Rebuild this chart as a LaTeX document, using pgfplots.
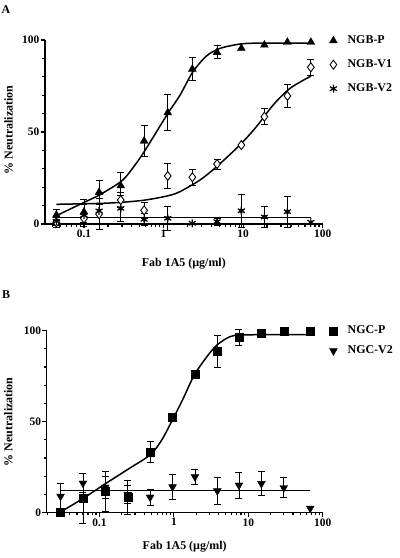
\documentclass[border=0pt]{standalone}
\usepackage{fontspec}
\setmainfont{Liberation Serif}
\usepackage{pgfplots}
\usepackage{pgfplotstable}
\pgfplotsset{compat=1.18}

\pgfplotstableread{
x y e
0.045 4.9 3
0.1 6.5 6.7
0.155 17.2 6.7
0.29 20.8 7.2
0.57 45.1 8.5
1.13 60.5 9.7
2.3 84.2 6.4
4.7 93.3 3.5
9.5 95.5 0
18.5 97.3 0
36 98.8 0
71 98.8 0
}\ngbp
\pgfplotstableread{
x y e
0.045 0.9 3
0.1 3 2
0.155 5.4 8.5
0.29 13 4
0.57 7.4 4.4
1.13 26.1 7
2.3 25.4 4.3
4.7 32.6 2.7
9.5 42.9 0
18.5 58.3 4.3
36 69.6 6
71 85.2 4.3
}\ngbva
\pgfplotstableread{
x y e
0.045 1.5 2
0.1 4.9 6
0.155 7.1 10
0.29 8.5 7.2
0.57 2.5 3.5
1.13 3.1 6.5
2.3 0.4 0
4.7 1.3 2
9.5 7.2 9
18.5 3.8 5.5
36 6.7 8.5
71 1.0 0
}\ngbvb
\pgfplotstableread{
x y e
0.03 0 0
0.06 7.9 13.7
0.12 11.9 11
0.24 8.4 9.2
0.48 33.4 6
0.96 52.6 0
1.92 76.3 0
3.84 88.5 8.7
7.5 96.4 4.3
15 98.5 0
30 99.6 0
68 99.6 0
}\ngcp
\pgfplotstableread{
x y e
0.03 9 7.3
0.06 16.2 5.2
0.12 14 6
0.24 10 5
0.48 8.5 4.5
0.96 14.2 6.7
1.92 19.7 4.3
3.84 12 7.5
7.5 15.1 7
15 16 6.5
30 13.7 5.5
68 2.4 0
}\ngcv

\pgfplotsset{
  myerr/.style={only marks, mark=none, forget plot,
    restrict expr to domain={\thisrow{e}}{0.1:1000},
    error bars/y dir=both, error bars/y explicit,
    error bars/error bar style={line width=0.8bp, black},
    error bars/error mark options={rotate=90, mark size=3.5bp, line width=0.8bp, black}},
  myfit/.style={black, line width=1.5bp, forget plot, mark=none},
}

\begin{document}
\begin{tikzpicture}
\useasboundingbox (0,0) rectangle (400bp,558bp);
\node[font=\fontsize{12}{13}\selectfont\bfseries] at (6bp,548bp) {A};
\node[font=\fontsize{12}{13}\selectfont\bfseries] at (6bp,263bp) {B};

\begin{axis}[
  scale only axis,
  xmode=log, log basis x=10,
  ymin=0, ymax=100, xmax=100,
  axis x line=bottom, axis y line=left,
  axis line style={-, line width=1.6bp, black},
  xtick={0.1,1,10,100}, xticklabels={0.1,1,10,100},
  ytick={0,50,100}, yticklabels={0,50,100},
  minor ytick={10,20,30,40,60,70,80,90},
  tick align=outside,
  major tick length=4.5bp, minor tick length=2.8bp,
  tick style={black, line width=1.2bp},
  tick label style={font=\fontsize{11.5}{12}\selectfont\bfseries, inner sep=1bp},
  label style={font=\fontsize{12}{13}\selectfont\bfseries},
  clip=false,
  legend style={draw=none, fill=none, font=\fontsize{12}{13}\selectfont\bfseries,
    anchor=north west, cells={anchor=west}, inner sep=0pt,
    nodes={inner sep=0pt, text height=9bp, text depth=3bp}},
  legend image code/.code={\draw[#1] plot coordinates {(0bp,0bp)}; \path (-4bp,-4bp) (14bp,4bp);},
  at={(45bp,334bp)}, anchor=south west,
  width=277.7bp, height=184bp,
  xmin=0.0324,
  minor xtick={0.04,0.05,0.06,0.07,0.08,0.09,0.2,0.3,0.4,0.5,0.6,0.7,0.8,0.9,2,3,4,5,6,7,8,9,20,30,40,50,60,70,80,90},
  xlabel={Fab 1A5 (µg/ml)},
  ylabel={\% Neutralization},
  xlabel style={at={(axis description cs:0.5,-0.217)}, anchor=center},
  ylabel style={at={(axis description cs:-0.131,0.511)}, anchor=center},
  legend style={at={(1.0227,1.03)}, row sep=12bp},
]
\addplot[myfit, smooth] coordinates {(0.045,4.5) (0.103,12) (0.16,16) (0.3,23.5) (0.42,31) (0.585,40) (1.13,60) (1.61,70) (2.32,82.5) (3.4,91) (4.7,94.8) (6.8,96.8) (12.2,98.2) (71,98.3)};
\addplot[myfit, smooth] coordinates {(0.045,10.7) (0.16,11.2) (0.3,11.8) (0.585,13) (1.13,15.3) (1.61,17.6) (2.87,23.9) (4.66,31.2) (9.08,42.9) (14.7,52.9) (23.9,64.7) (38.8,73.7) (71.3,80.4)};
\addplot[myfit] coordinates {(0.045,3.4) (71,3.4)};
\addplot[myerr] table[x=x,y=y,y error=e] {\ngbp};
\addplot[myerr] table[x=x,y=y,y error=e] {\ngbva};
\addplot[myerr] table[x=x,y=y,y error=e] {\ngbvb};
\addplot[only marks, mark=triangle*, mark size=4.5bp, black] table[x=x,y=y] {\ngbp};
\addplot[only marks, mark=diamond*, mark size=4.5bp, black, mark options={draw=black, fill=white, line width=0.9bp}] table[x=x,y=y] {\ngbva};
\addplot[only marks, mark=asterisk, mark size=4bp, black, mark options={line width=1.2bp}] table[x=x,y=y] {\ngbvb};
\legend{NGB-P, NGB-V1, NGB-V2}
\end{axis}

\begin{axis}[
  scale only axis,
  xmode=log, log basis x=10,
  ymin=0, ymax=100, xmax=100,
  axis x line=bottom, axis y line=left,
  axis line style={-, line width=1.6bp, black},
  xtick={0.1,1,10,100}, xticklabels={0.1,1,10,100},
  ytick={0,50,100}, yticklabels={0,50,100},
  minor ytick={10,20,30,40,60,70,80,90},
  tick align=outside,
  major tick length=4.5bp, minor tick length=2.8bp,
  tick style={black, line width=1.2bp},
  tick label style={font=\fontsize{11.5}{12}\selectfont\bfseries, inner sep=1bp},
  label style={font=\fontsize{12}{13}\selectfont\bfseries},
  clip=false,
  legend style={draw=none, fill=none, font=\fontsize{12}{13}\selectfont\bfseries,
    anchor=north west, cells={anchor=west}, inner sep=0pt,
    nodes={inner sep=0pt, text height=9bp, text depth=3bp}},
  legend image code/.code={\draw[#1] plot coordinates {(0bp,0bp)}; \path (-4bp,-4bp) (14bp,4bp);},
  at={(46.7bp,45.3bp)}, anchor=south west,
  width=276bp, height=182bp,
  xmin=0.01955,
  minor xtick={0.02,0.03,0.04,0.05,0.06,0.07,0.08,0.09,0.2,0.3,0.4,0.5,0.6,0.7,0.8,0.9,2,3,4,5,6,7,8,9,20,30,40,50,60,70,80,90},
  xlabel={Fab 1A5 (µg/ml)},
  ylabel={\% Neutralization},
  xlabel style={at={(axis description cs:0.5,-0.187)}, anchor=center},
  ylabel style={at={(axis description cs:-0.139,0.5)}, anchor=center},
  legend style={at={(1.023,1.033)}, row sep=8bp},
]
\addplot[myfit, smooth] coordinates {(0.0304,0.5) (0.061,8) (0.119,15.8) (0.236,23.6) (0.476,31.7) (0.684,39.8) (0.96,51.1) (1.33,62.6) (1.87,75.4) (2.74,85.4) (3.81,92.2) (5.64,96.7) (7.7,97.6) (15,97.8) (68,97.8)};
\addplot[myfit] coordinates {(0.03,12.1) (68,12.1)};
\addplot[myerr] table[x=x,y=y,y error=e] {\ngcp};
\addplot[myerr] table[x=x,y=y,y error=e] {\ngcv};
\addplot[only marks, mark=square*, mark size=4bp, black] table[x=x,y=y] {\ngcp};
\addplot[only marks, mark=triangle*, mark size=4.5bp, black, mark options={rotate=180}] table[x=x,y=y] {\ngcv};
\legend{NGC-P, NGC-V2}
\end{axis}
\end{tikzpicture}
\end{document}
